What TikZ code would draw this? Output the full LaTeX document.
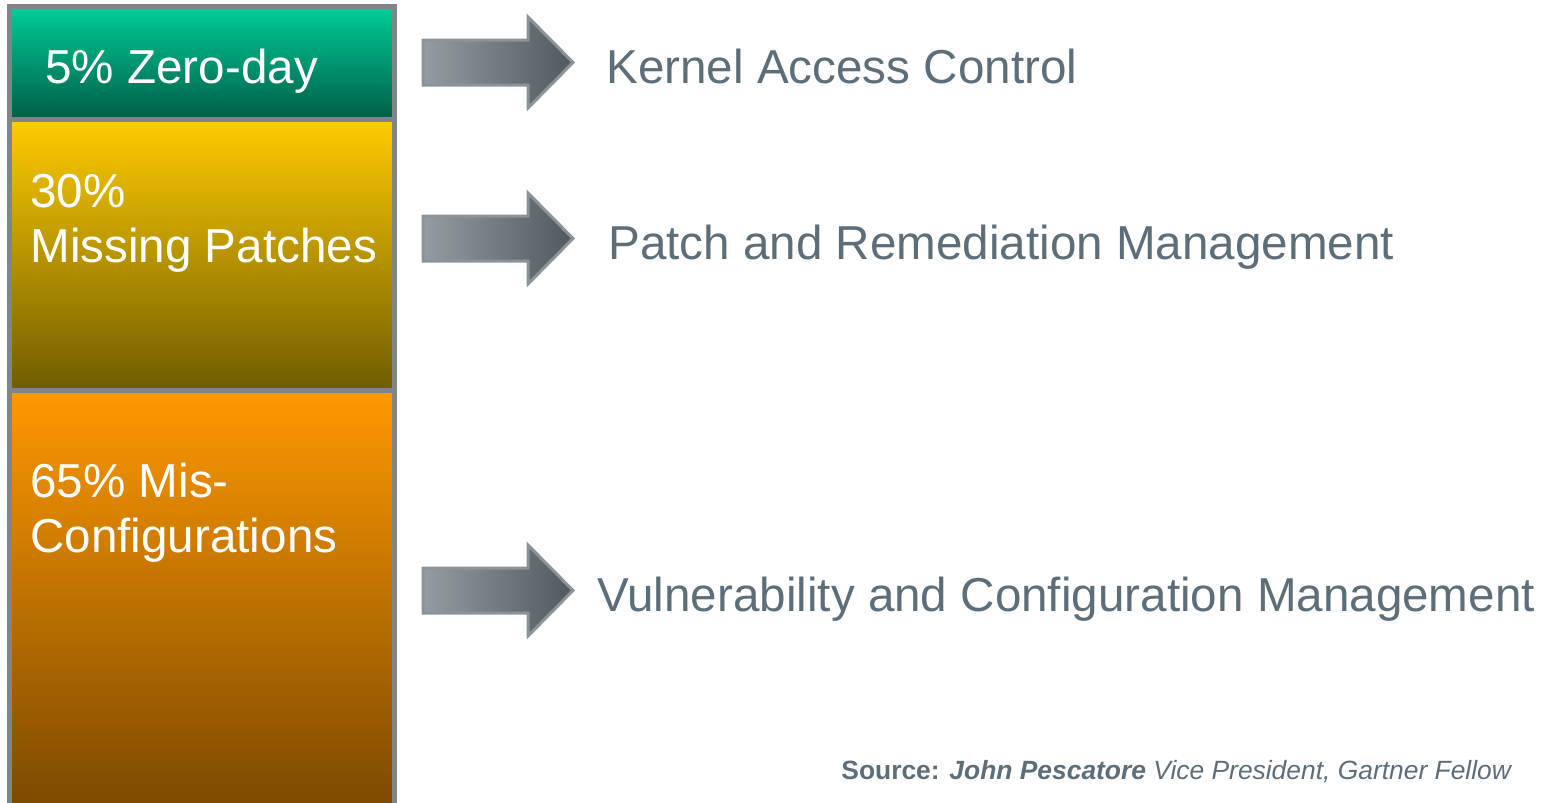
\documentclass[tikz,border=0pt]{standalone}
\usepackage{fontspec}
\setmainfont{Liberation Sans}
\usepackage{tikz}
\usetikzlibrary{calc}
\definecolor{frameGray}{RGB}{127,134,138}
\definecolor{zeroTop}{RGB}{0,204,153}
\definecolor{zeroBot}{RGB}{0,94,70}
\definecolor{patchTop}{RGB}{255,204,0}
\definecolor{patchBot}{RGB}{112,92,0}
\definecolor{misTop}{RGB}{255,153,0}
\definecolor{misBot}{RGB}{122,72,0}
\definecolor{slate}{RGB}{92,110,121}
\definecolor{arrowLight}{RGB}{146,156,162}
\definecolor{arrowDark}{RGB}{80,89,94}
\definecolor{arrowEdge}{RGB}{138,148,153}
\tikzset{lbl/.style={inner sep=0pt, anchor=base west, align=left,
  font=\fontsize{23.8}{27.5}\selectfont}}

\begin{document}
\begin{tikzpicture}[x=0.5pt,y=-0.5pt]
\tikzstyle{bigarrow} = [draw=arrowEdge, line width=1.5pt, line join=miter,
  left color=arrowLight, right color=arrowDark]
\tikzstyle{frame} = [draw=frameGray, line width=2.5pt]
\useasboundingbox (0,0) rectangle (1558,803);
\shade[top color=zeroTop, bottom color=zeroBot] (9.5,6.5) rectangle (394.5,119);
\shade[top color=patchTop, bottom color=patchBot] (9.5,119) rectangle (394.5,390.5);
\shade[top color=misTop, bottom color=misBot] (9.5,390.5) rectangle (394.5,815);
\draw[frame] (9.5,815) -- (9.5,6.5) -- (394.5,6.5) -- (394.5,815);
\draw[frame] (9.5,119) -- (394.5,119);
\draw[frame] (9.5,390.5) -- (394.5,390.5);
\node[lbl, text=white](zeroday) at (45,83){5\% Zero-day};
\node[lbl, text=white](patches) at (30,262){30\%\\Missing Patches};
\node[lbl, text=white](misconf) at (30,552){65\% Mis-\\Configurations};
\foreach \y in {62.5, 238.5, 590.5}
  \draw[bigarrow] (423,\y-22.5) -- (528,\y-22.5) -- (528,\y-45.5) -- (573,\y)
    -- (528,\y+45.5) -- (528,\y+22.5) -- (423,\y+22.5) -- cycle;
\node[lbl, text=slate](kernel) at (606,83){Kernel Access Control};
\node[lbl, text=slate](remed) at (608,259){Patch and Remediation Management};
\node[lbl, text=slate](vulncfg) at (597,611){Vulnerability and Configuration Management};
\node[inner sep=0pt, anchor=base west, text=slate,
  font=\fontsize{13.2}{15}\selectfont](source) at (841,779)
  {\textbf{Source: \textit{John Pescatore}} \textit{Vice President, Gartner Fellow}};
\end{tikzpicture}
\end{document}
